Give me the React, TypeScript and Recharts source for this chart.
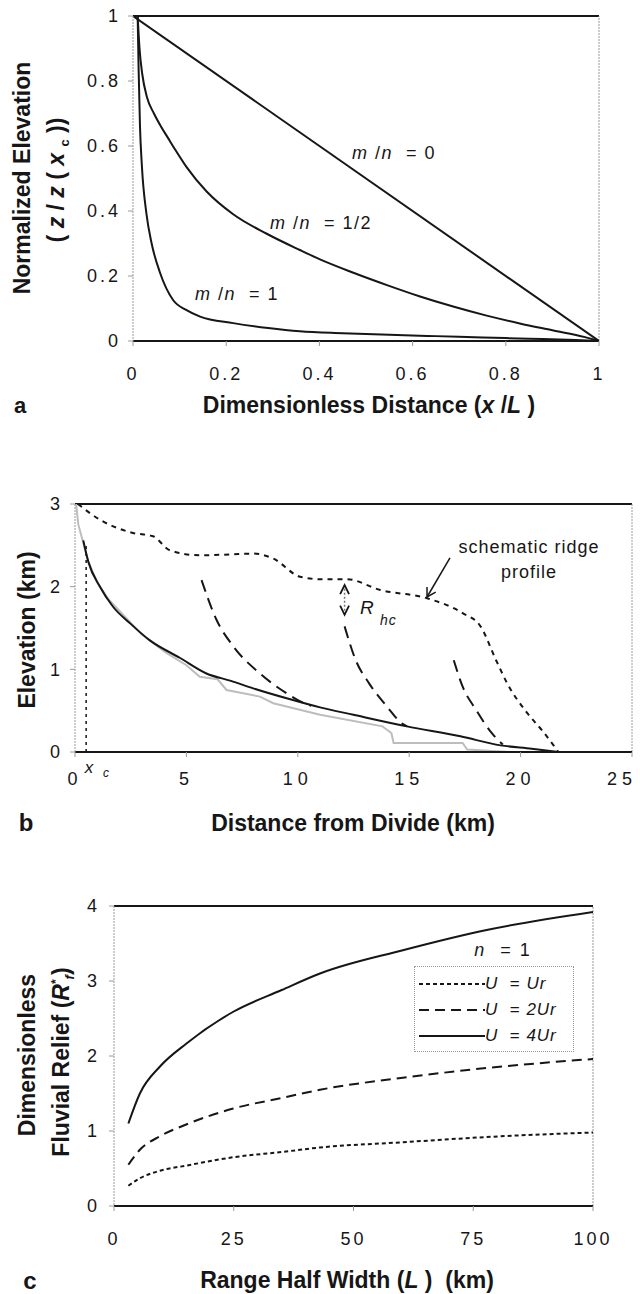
import React from 'react';
import { LineChart, Line, XAxis, YAxis, ReferenceLine } from 'recharts';

const FONT = '"Liberation Sans", Arial, Helvetica, sans-serif';
const INK = '#161616';
const FRAME = '#9a9a9a';
const GREY = '#bdbdbd';

// ---- panel a : normalized profiles
const aTicks = [0, 0.2, 0.4, 0.6, 0.8, 1];
const mn0X = [0, 1];
const mn0Y = [1, 0];
const mnHalfX = [0.01, 0.014, 0.02, 0.03, 0.045, 0.06, 0.075, 0.09, 0.115, 0.158, 0.215, 0.287, 0.358, 0.4, 0.473, 0.545, 0.616, 0.687, 0.759, 0.83, 0.9, 0.97, 1];
const mnHalfY = [1, 0.9, 0.82, 0.75, 0.7, 0.66, 0.625, 0.59, 0.535, 0.46, 0.39, 0.33, 0.28, 0.252, 0.21, 0.172, 0.137, 0.106, 0.078, 0.054, 0.033, 0.012, 0];
const mn1X = [0.01, 0.012, 0.015, 0.019, 0.029, 0.04, 0.058, 0.086, 0.115, 0.144, 0.215, 0.29, 0.358, 0.45, 0.55, 0.65, 0.75, 0.85, 0.95, 1];
const mn1Y = [1, 0.84, 0.66, 0.54, 0.39, 0.3, 0.21, 0.126, 0.095, 0.075, 0.055, 0.04, 0.03, 0.024, 0.019, 0.015, 0.011, 0.007, 0.003, 0];

// ---- panel b : field example
const bTicksX = [0, 5, 10, 15, 20, 25];
const bTicksY = [0, 1, 2, 3];
const ridgeX = [0.13, 1.12, 2.6, 3.5, 4.26, 5.6, 7.0, 8.0, 8.9, 10.1, 11.0, 12.2, 13.7, 15.8, 17.4, 18.2, 18.9, 19.4, 20.3, 21.0, 21.7];
const ridgeY = [3.0, 2.81, 2.65, 2.61, 2.44, 2.38, 2.39, 2.4, 2.34, 2.12, 2.09, 2.09, 1.96, 1.86, 1.68, 1.52, 1.11, 0.83, 0.47, 0.25, 0];
const mainX = [0.37, 0.6, 1.12, 1.7, 2.5, 3.36, 4.7, 5.9, 7.0, 8.0, 9.5, 11.0, 12.5, 14.9, 17.3, 19.1, 20.5, 21.7];
const mainY = [2.56, 2.3, 2.0, 1.76, 1.55, 1.35, 1.14, 0.95, 0.86, 0.77, 0.65, 0.54, 0.45, 0.31, 0.19, 0.08, 0.04, 0];
const dataX = [0.05, 0.15, 0.3, 0.6, 1.0, 1.5, 2.2, 3.0, 4.1, 5.0, 5.6, 6.4, 6.8, 8.3, 8.9, 11.0, 13.8, 14.2, 14.3, 17.4, 17.6, 19.6];
const dataY = [3.0, 2.75, 2.6, 2.3, 2.05, 1.85, 1.65, 1.42, 1.2, 1.05, 0.91, 0.88, 0.75, 0.67, 0.59, 0.45, 0.31, 0.23, 0.11, 0.11, 0.03, 0];
const trib1X = [5.68, 6.35, 7.1, 8.3, 9.5, 10.2, 10.6];
const trib1Y = [2.08, 1.6, 1.28, 0.95, 0.71, 0.6, 0.56];
const trib2X = [12.1, 12.6, 13.2, 14.0, 14.7, 14.9];
const trib2Y = [1.52, 1.11, 0.83, 0.55, 0.34, 0.31];
const trib3X = [17.0, 17.4, 18.0, 18.7, 19.2];
const trib3Y = [1.11, 0.79, 0.51, 0.23, 0.09];
const xcX = [0.5, 0.5];
const xcY = [0, 2.53];
const rhcX = [12.1, 12.1];
const rhcY = [1.66, 2.02];
const rhcTopX = [11.9, 12.1, 12.3];
const rhcTopY = [1.91, 2.02, 1.91];
const rhcBotX = [11.9, 12.1, 12.3];
const rhcBotY = [1.77, 1.66, 1.77];
const ridgeArrowX = [16.83, 15.8];
const ridgeArrowY = [2.347, 1.875];
const ridgeHeadX = [16.19, 15.8, 15.8];
const ridgeHeadY = [1.934, 1.875, 1.996];

// ---- panel c : relief vs range half width
const cTicksX = [0, 25, 50, 75, 100];
const cTicksY = [0, 1, 2, 3, 4];
const halfWidth = [3, 5.4, 9.6, 15.2, 24.9, 35, 43, 60.3, 77.8, 100];
const relief4Ur = [1.1, 1.5, 1.86, 2.17, 2.59, 2.88, 3.1, 3.41, 3.68, 3.92];
const relief2Ur = [0.55, 0.75, 0.93, 1.09, 1.3, 1.44, 1.55, 1.71, 1.84, 1.96];
const reliefUr = [0.27, 0.37, 0.47, 0.54, 0.65, 0.72, 0.78, 0.85, 0.92, 0.98];
const legendNames = ['Ur', '2Ur', '4Ur'];
const legendDash = ['4 3', '10 6', ''];

const pts = (xs: number[], ys: number[]) => xs.map((x, i) => ({ x, y: ys[i] }));

const tickStyle = { fill: INK, fontSize: 18, fontFamily: FONT, letterSpacing: 3 };

// x tick that stays inside the page at the right edge
const EdgeTick = ({ x, y, payload, spacing }: any) => {
    const label = String(payload.value);
    const half = label.length * (5 + spacing / 2) + 2;
    return (
        <text x={Math.min(x, 639 - half)} y={y} dy="0.71em" textAnchor="middle"
            fill={INK} fontSize={18} fontFamily={FONT} letterSpacing={spacing}>{label}</text>
    );
};

function Txt({ x, y, size = 18, bold = false, rotate = false, anchor = 'middle', spacing = 0, children }: any) {
    const tx = anchor === 'middle' ? '-50%' : anchor === 'start' ? '0' : '-100%';
    return (
        <div style={{
            position: 'absolute', left: x, top: y, whiteSpace: 'pre', lineHeight: 1,
            transform: `translate(${tx},-50%)${rotate ? ' rotate(-90deg)' : ''}`,
            fontFamily: FONT, fontSize: size, fontWeight: bold ? 700 : 400, color: INK, letterSpacing: spacing,
        }}>{children}</div>
    );
}

const curve = (data: any[], opts: any = {}) => (
    <Line data={data} dataKey="y" type={opts.type || 'monotone'} dot={false} isAnimationActive={false}
        stroke={opts.stroke || INK} strokeWidth={opts.width || 2} strokeDasharray={opts.dash}
        legendType="none" />
);

function axes(xTicks: number[], yTicks: number[], yWidth: number, xMargin: number, yMargin: number, xSpacing = 3) {
    return [
        <XAxis key="x" type="number" dataKey="x" domain={[xTicks[0], xTicks[xTicks.length - 1]]} ticks={xTicks}
            interval={0} allowDataOverflow height={30} tickSize={5} tickMargin={xMargin}
            tick={(p: any) => <EdgeTick {...p} spacing={xSpacing} />} tickLine={{ stroke: FRAME }}
            axisLine={{ stroke: INK, strokeWidth: 2 }} />,
        <YAxis key="y" type="number" domain={[yTicks[0], yTicks[yTicks.length - 1]]} ticks={yTicks}
            interval={0} allowDataOverflow width={yWidth} tickSize={5} tickMargin={yMargin}
            tick={tickStyle} tickLine={{ stroke: FRAME }}
            axisLine={{ stroke: FRAME, strokeDasharray: '2 1' }} />,
    ];
}

export default function App() {
    return (
        <div style={{ position: 'absolute', left: 0, top: 0, width: 640, height: 1294, background: '#fff', overflow: 'hidden' }}>
            {/* a */}
            <div style={{ position: 'absolute', left: 0, top: 0 }}>
                <LineChart width={640} height={400} margin={{ top: 16, right: 41, bottom: 29, left: 0 }}>
                    {axes(aTicks, aTicks, 133, 21, 7)}
                    <ReferenceLine y={1} stroke={INK} strokeWidth={2} />
                    <ReferenceLine x={1} stroke={FRAME} strokeDasharray="2 1" />
                    {curve(pts(mn0X, mn0Y), { type: 'linear' })}
                    {curve(pts(mnHalfX, mnHalfY))}
                    {curve(pts(mn1X, mn1Y))}
                </LineChart>
            </div>
            <Txt x={352} y={153} anchor="start" spacing={1.5}><i>m</i> /<i>n</i>  = 0</Txt>
            <Txt x={270} y={223} anchor="start" spacing={1.5}><i>m</i> /<i>n</i>  = 1/2</Txt>
            <Txt x={195} y={294} anchor="start" spacing={1.5}><i>m</i> /<i>n</i>  = 1</Txt>
            <Txt x={22} y={178} size={23} bold rotate>Normalized Elevation</Txt>
            <Txt x={58} y={180} size={23} bold rotate>( <i>z</i> / <i>z</i> ( <i>x</i> <sub style={{ fontSize: 13 }}>c</sub> ))</Txt>
            <Txt x={20} y={406} size={22} bold>a</Txt>
            <Txt x={369} y={405} size={23} bold>Dimensionless Distance (<i>x</i> /<i>L</i> )</Txt>

            {/* b */}
            <div style={{ position: 'absolute', left: 0, top: 480 }}>
                <LineChart width={640} height={320} margin={{ top: 24, right: 8, bottom: 18, left: 0 }}>
                    {axes(bTicksX, bTicksY, 75, 15, 7, 5)}
                    <ReferenceLine y={3} stroke={INK} strokeWidth={2} />
                    <ReferenceLine x={25} stroke={FRAME} strokeDasharray="2 1" />
                    {curve(pts(dataX, dataY), { type: 'linear', stroke: GREY, width: 2 })}
                    {curve(pts(xcX, xcY), { type: 'linear', dash: '3 4', width: 1.5 })}
                    {curve(pts(ridgeX, ridgeY), { dash: '5 5' })}
                    {curve(pts(mainX, mainY))}
                    {curve(pts(trib1X, trib1Y), { dash: '12 7' })}
                    {curve(pts(trib2X, trib2Y), { dash: '12 7' })}
                    {curve(pts(trib3X, trib3Y), { dash: '12 7' })}
                    {curve(pts(rhcX, rhcY), { type: 'linear', stroke: '#777', width: 1.5, dash: '2 2' })}
                    {curve(pts(rhcTopX, rhcTopY), { type: 'linear', width: 1.8 })}
                    {curve(pts(rhcBotX, rhcBotY), { type: 'linear', width: 1.8 })}
                    {curve(pts(ridgeArrowX, ridgeArrowY), { type: 'linear', width: 1.5 })}
                    {curve(pts(ridgeHeadX, ridgeHeadY), { type: 'linear', width: 1.5 })}
                </LineChart>
            </div>
            <Txt x={89} y={767} size={17}><i>x</i></Txt>
            <Txt x={106} y={773} size={12}><i>c</i></Txt>
            <Txt x={360} y={607} size={19} anchor="start"><i>R</i></Txt>
            <Txt x={380} y={620} size={14} anchor="start" spacing={1}><i>hc</i></Txt>
            <Txt x={529} y={547} size={18} spacing={1}>schematic ridge</Txt>
            <Txt x={529} y={572} size={18} spacing={1}>profile</Txt>
            <Txt x={27} y={630} size={23} bold rotate>Elevation (km)</Txt>
            <Txt x={26} y={823} size={24} bold>b</Txt>
            <Txt x={353} y={823} size={23} bold>Distance from Divide (km)</Txt>

            {/* c */}
            <div style={{ position: 'absolute', left: 0, top: 880 }}>
                <LineChart width={640} height={380} margin={{ top: 26, right: 47, bottom: 24, left: 0 }}>
                    {axes(cTicksX, cTicksY, 114, 21, 9)}
                    <ReferenceLine y={4} stroke={INK} strokeWidth={2} />
                    <ReferenceLine x={100} stroke={FRAME} strokeDasharray="2 1" />
                    {curve(pts(halfWidth, reliefUr), { dash: '4 3' })}
                    {curve(pts(halfWidth, relief2Ur), { dash: '10 6' })}
                    {curve(pts(halfWidth, relief4Ur))}
                </LineChart>
            </div>
            <Txt x={503} y={950} size={18} spacing={2}><i>n</i>  = 1</Txt>
            <div style={{ position: 'absolute', left: 414, top: 966, width: 160, height: 86, border: `1px dotted ${FRAME}`, boxSizing: 'border-box' }}>
                {legendNames.map((name, i) => (
                    <div key={name} style={{ position: 'absolute', left: 4, top: 8 + i * 26, height: 18, display: 'flex', alignItems: 'center' }}>
                        <svg width={66} height={18}>
                            <line x1={0} y1={9} x2={66} y2={9} stroke={INK} strokeWidth={2} strokeDasharray={legendDash[i] || undefined} />
                        </svg>
                        <span style={{ fontFamily: FONT, fontSize: 17, color: INK, whiteSpace: 'pre', letterSpacing: 1 }}>
                            <i>U</i>  = <i>{name}</i>
                        </span>
                    </div>
                ))}
            </div>
            <Txt x={27} y={1055} size={23} bold rotate>Dimensionless</Txt>
            <Txt x={63} y={1062} size={23} bold rotate>Fluvial Relief (<i>R</i><sup style={{ fontSize: 12 }}>*</sup><sub style={{ fontSize: 13 }}><i>f</i></sub>)</Txt>
            <Txt x={30} y={1281} size={24} bold>c</Txt>
            <Txt x={347} y={1280} size={23} bold>Range Half Width (<i>L</i> )  (km)</Txt>
        </div>
    );
}
